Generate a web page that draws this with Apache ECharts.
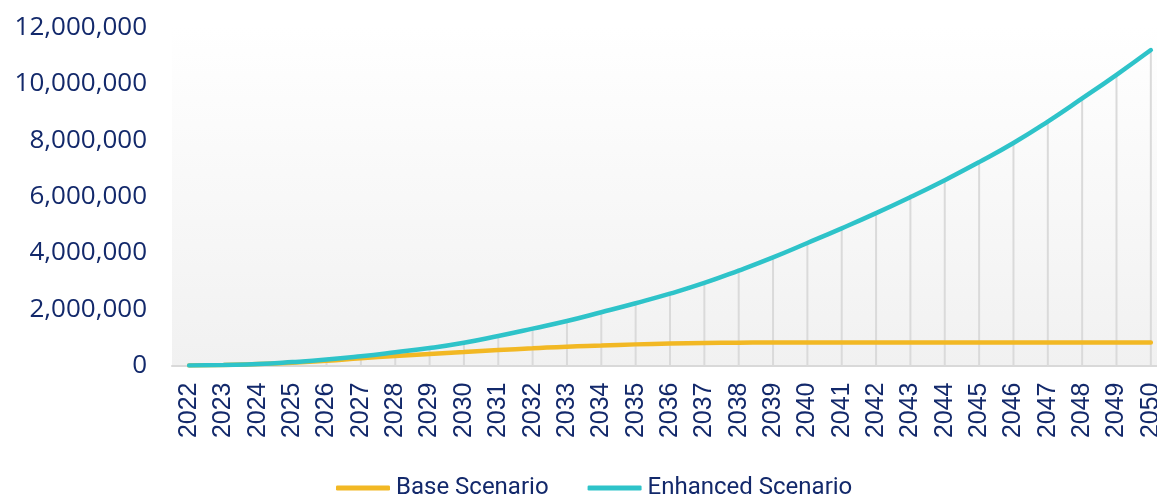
<!DOCTYPE html>
<html>
<head>
<meta charset="utf-8">
<script src="https://cdn.jsdelivr.net/npm/echarts@6/dist/echarts.min.js"></script>
<style>
  html, body { margin: 0; padding: 0; background: #fff; }
  #chart { width: 1157px; height: 495px; }
</style>
</head>
<body>
<div id="chart"></div>
<script>
// years on the x axis
var years = ['2022', '2023', '2024', '2025', '2026', '2027', '2028', '2029', '2030', '2031',
  '2032', '2033', '2034', '2035', '2036', '2037', '2038', '2039', '2040', '2041',
  '2042', '2043', '2044', '2045', '2046', '2047', '2048', '2049', '2050']

// values
var baseScenario = [0, 20000, 50000, 100000, 170000, 260000, 340000, 410000, 480000, 550000,
  610000, 670000, 710000, 750000, 780000, 800000, 810000, 820000, 820000, 820000,
  820000, 820000, 820000, 820000, 820000, 820000, 820000, 820000, 820000]
var enhancedScenario = [0, 20000, 50000, 120000, 210000, 330000, 470000, 620000, 810000, 1050000,
  1310000, 1580000, 1890000, 2210000, 2550000, 2930000, 3370000, 3840000, 4350000, 4870000,
  5410000, 5980000, 6580000, 7220000, 7900000, 8660000, 9480000, 10320000, 11200000]

var yTicks = { min: 0, max: 12000000, interval: 2000000 }

var navy = '#13296b'
var chartPlot = echarts.init(document.getElementById('chart'))

var option = {
  animation: false,
  grid: {
    show: true,
    left: 172,
    top: 27.5,
    width: 996,
    height: 338,
    outerBoundsMode: 'none',
    borderWidth: 0,
    backgroundColor: new echarts.graphic.LinearGradient(0, 0, 0, 1, [
      { offset: 0, color: '#ffffff' },
      { offset: 1, color: '#f1f1f1' },
    ]),
  },
  legend: {
    data: ['Base Scenario', 'Enhanced Scenario'],
    left: 331,
    top: 471,
    icon: 'roundRect',
    itemWidth: 54,
    itemHeight: 5,
    itemGap: 39,
    textStyle: {
      color: navy,
      fontFamily: 'Roboto',
      fontSize: 24,
      padding: [0, 0, 0, 1],
    },
  },
  xAxis: {
    type: 'category',
    data: years,
    boundaryGap: true,
    axisLine: { lineStyle: { color: '#d9d9d9', width: 2 } },
    axisTick: { show: false },
    axisLabel: {
      rotate: 90,
      margin: 17,
      interval: 0,
      color: navy,
      fontFamily: 'Liberation Sans',
      fontSize: 25,
    },
  },
  yAxis: {
    type: 'value',
    min: yTicks.min,
    max: yTicks.max,
    interval: yTicks.interval,
    splitLine: { show: false },
    axisLine: { show: false },
    axisTick: { show: false },
    axisLabel: {
      margin: 25,
      color: navy,
      fontFamily: 'Open Sans',
      fontSize: 26,
      formatter: function (v) {
        return v.toLocaleString('en-US')
      },
    },
  },
  series: [
    {
      // thin drop lines under the enhanced curve
      name: 'drop',
      type: 'bar',
      data: enhancedScenario,
      barWidth: 2,
      itemStyle: { color: '#dadada' },
      silent: true,
      z: 1,
    },
    {
      name: 'Base Scenario',
      type: 'line',
      data: baseScenario,
      smooth: true,
      showSymbol: false,
      color: '#f2b824',
      lineStyle: { width: 4.5, color: '#f2b824', cap: 'round' },
      z: 3,
    },
    {
      name: 'Enhanced Scenario',
      type: 'line',
      data: enhancedScenario,
      smooth: true,
      showSymbol: false,
      color: '#2ec3c9',
      lineStyle: { width: 4.5, color: '#2ec3c9', cap: 'round' },
      z: 4,
    },
  ],
}

chartPlot.setOption(option)
</script>
</body>
</html>
